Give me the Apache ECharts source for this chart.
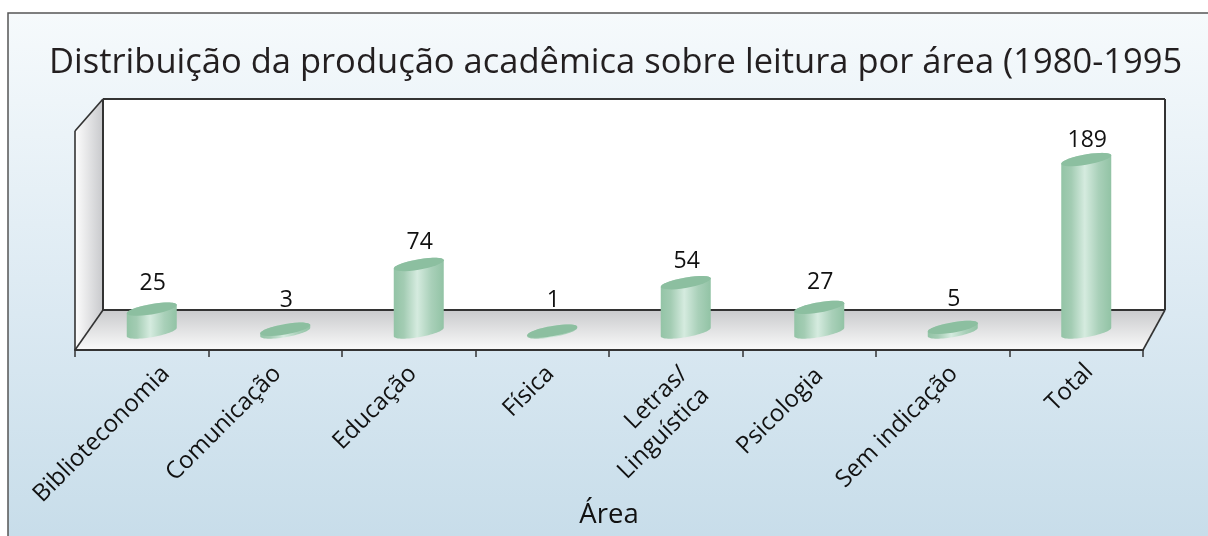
<!DOCTYPE html>
<html><head><meta charset="utf-8">
<style>html,body{margin:0;padding:0;background:#fff}#c{width:1208px;height:536px}</style>
<script src="https://cdn.jsdelivr.net/npm/echarts@6/dist/echarts.min.js"></script>
</head><body><div id="c"></div>
<script>
const categories = ['Biblioteconomia','Comunicação','Educação','Física','Letras/\nLinguística','Psicologia','Sem indicação','Total'];
const values = [25,3,74,1,54,27,5,189];
const titleText = 'Distribuição da produção acadêmica sobre leitura por área (1980-1995';
const axisName = 'Área';

// layout only
const box = {l:75,r:1143,t:131,b:350,dx:28,dy:40,dz:32};
const depth = {x:10,y:-18};
const barHalf = 25, shear = 4.2, minor = 5.2;
const labelShift = [[24,20],[2,20],[4,20],[8,20],[19,31],[10,22],[11,20],[13,18]];
const valueGap = [26,29,22.5,31,21,25,28,19];
const FONT = '"Open Sans"';
const INK = '#333';

const chart = echarts.init(document.getElementById('c'));
const ln = (x1,y1,x2,y2,w)=>({type:'line',z:1,silent:true,shape:{x1,y1,x2,y2},style:{stroke:INK,lineWidth:w||1.6}});
const G = echarts.graphic.LinearGradient;
const bx = box.l+box.dx, bxr = box.r+22, bt = box.t-box.dz, bb = box.b-box.dy;

function ring(cx,cy,from,to){
  const pts=[];
  for(let k=0;k<=32;k++){
    const t=from+(to-from)*k/32;
    pts.push([cx+barHalf*Math.cos(t), cy-shear*Math.cos(t)-minor*Math.sin(t)]);
  }
  return pts;
}
function renderItem(params,api){
  const i = params.dataIndex;
  const base = api.coord([api.value(0),0]);
  const top = api.coord([api.value(0),api.value(1)]);
  const cx = base[0]+depth.x, y0 = base[1]+depth.y, y1 = top[1]+depth.y;
  const lower = ring(cx,y0,Math.PI,2*Math.PI);
  return {type:'group',children:[
    {type:'polygon',shape:{points:lower.concat(ring(cx,y1,0,Math.PI))},
     style:{fill:new G(0,0,1,0,[{offset:0,color:'#93c4a6'},{offset:.2,color:'#a3ccb3'},{offset:.47,color:'#d5ebdf'},{offset:.75,color:'#a9d0b9'},{offset:1,color:'#92c3a5'}])}},
    {type:'polygon',shape:{points:ring(cx,y1,0,2*Math.PI)},style:{fill:'#8cbfa0'}},
    {type:'text',style:{text:String(api.value(1)),x:cx+1,y:y1-valueGap[i],align:'center',verticalAlign:'middle',
      font:'23px '+FONT,fill:'#111'}},
    {type:'text',x:base[0]+labelShift[i][0],y:base[1]+labelShift[i][1],rotation:Math.PI/4,
     style:{text:categories[i],x:0,y:0,align:'right',verticalAlign:'middle',font:'24px '+FONT,lineHeight:30,fill:'#111'}}
  ]};
}
chart.setOption({
  animation:false,
  backgroundColor:'#fff',
  title:{text:titleText,left:44,top:41,textStyle:{fontFamily:FONT,fontSize:34.5,fontWeight:'normal',color:'#231f20'}},
  grid:{left:box.l,top:box.t,width:box.r-box.l,height:box.b-box.t,outerBoundsMode:'none',containLabel:false},
  xAxis:{type:'category',data:categories,z:3,
    name:axisName,nameLocation:'middle',nameGap:165,nameMoveOverlap:false,
    nameTextStyle:{fontFamily:FONT,fontSize:27.5,color:'#111',verticalAlign:'middle'},
    axisLine:{lineStyle:{color:INK,width:2}},
    axisTick:{show:true,length:7,lineStyle:{color:INK,width:1.5}},
    axisLabel:{show:false}},
  yAxis:{type:'value',min:0,max:240,interval:40,show:false},
  graphic:{elements:[
    {type:'rect',z:0,silent:true,shape:{x:8,y:13,width:1300,height:600},
     style:{fill:new G(0,0,0,1,[{offset:0,color:'#f6fafc'},{offset:.5,color:'#dbe9f2'},{offset:1,color:'#c1d9e7'}]),stroke:'#555',lineWidth:1.5}},
    {type:'rect',z:1,silent:true,shape:{x:bx,y:bt,width:bxr-bx,height:bb-bt},style:{fill:'#fff'}},
    {type:'polygon',z:1,silent:true,shape:{points:[[box.l,box.t],[bx,bt],[bx,bb],[box.l,box.b]]},
     style:{fill:new G(0,0,1,0,[{offset:0,color:'#fdfdfd'},{offset:1,color:'#c8c9cc'}])}},
    {type:'polygon',z:1,silent:true,shape:{points:[[bx,bb],[bxr,bb],[box.r,box.b],[box.l,box.b]]},
     style:{fill:new G(0,0,0,1,[{offset:0,color:'#c9cacc'},{offset:1,color:'#fafafa'}])}},
    ln(box.l,box.t,bx,bt), ln(bx,bt,bxr,bt,2), ln(bxr,bt,bxr,bb,2), ln(bx,bt,bx,bb,2), ln(bx,bb,bxr,bb,2),
    ln(box.l,box.t,box.l,box.b), ln(box.l,box.b,bx,bb), ln(box.r,box.b,bxr,bb)
  ]},
  series:[{type:'custom',z:5,clip:false,silent:true,coordinateSystem:'cartesian2d',encode:{x:0,y:1},
    data:values.map((v,i)=>[i,v]),renderItem}]
});
</script></body></html>
